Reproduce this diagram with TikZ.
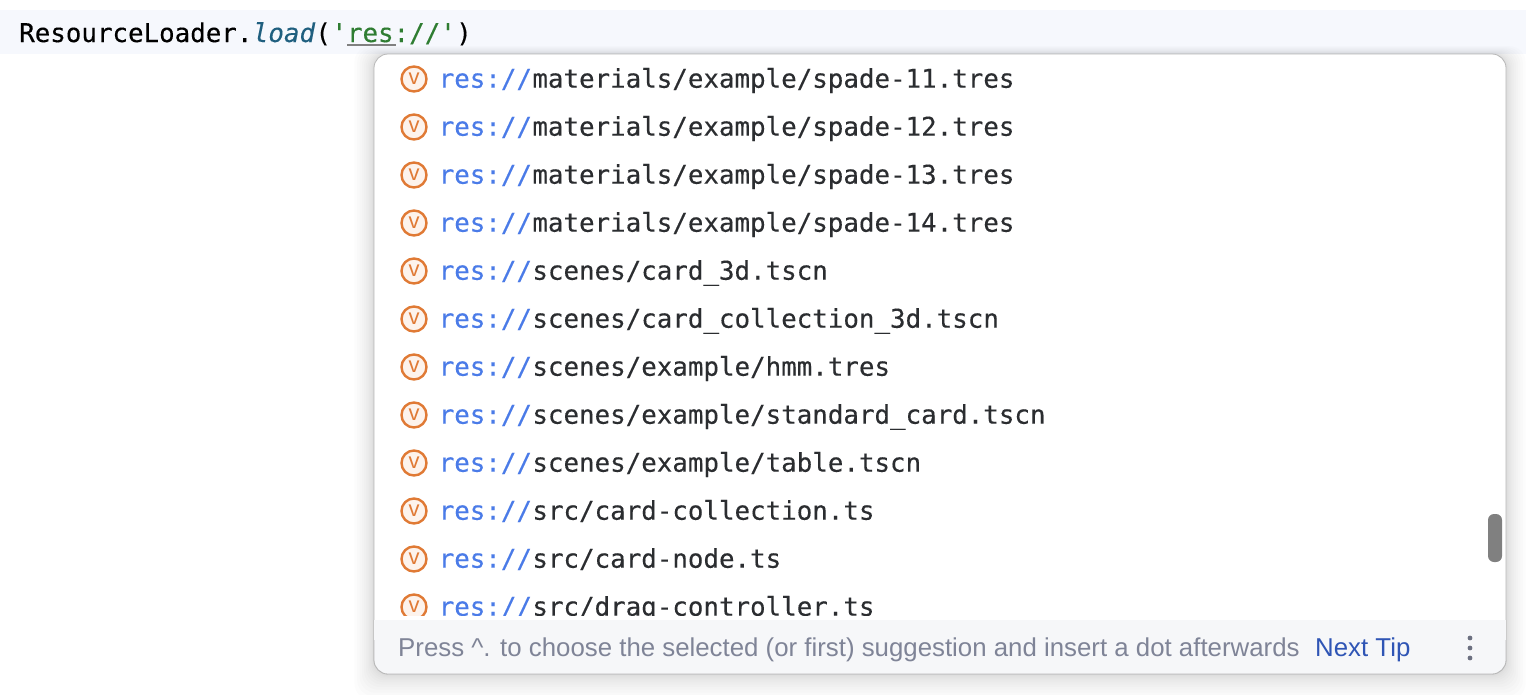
\documentclass[tikz,border=0pt]{standalone}
\usepackage{fontspec}
\setmainfont{Liberation Sans}
\setmonofont[FakeBold=0.25]{DejaVu Sans Mono}
\definecolor{bandcol}{HTML}{F6F8FD}
\definecolor{footcol}{HTML}{F6F7F9}
\definecolor{iconcol}{HTML}{E07A35}
\definecolor{iconfill}{HTML}{FDF3EC}
\definecolor{rescol}{HTML}{4A7BE8}
\definecolor{pathcol}{HTML}{2B2D30}
\definecolor{loadcol}{HTML}{1F5F7F}
\definecolor{strcol}{HTML}{2F7D32}
\definecolor{tipcol}{HTML}{7F8497}
\definecolor{linkcol}{HTML}{2F55B5}
\tikzset{
    code/.style={inner sep=0pt, anchor=base west, font=\ttfamily\fontsize{25.83}{30}\selectfont},
    tip/.style={inner sep=0pt, anchor=base west, font=\fontsize{25.82}{30}\selectfont},
    icon/.style={circle, draw=iconcol, line width=2.4pt, fill=iconfill, minimum size=25pt, inner sep=0pt, text=iconcol, font=\fontsize{22}{22}\selectfont}
}
\begin{document}
\begin{tikzpicture}[x=1pt,y=-1pt]
\useasboundingbox (0,0) rectangle (1526,694);
\fill[bandcol] (0,10) rectangle (1526,54);
% editor line
\node[code] (cls) at (19,42) {ResourceLoader.};
\node[code, text=loadcol] (load) at (cls.base east) {\itshape load};
\node[code] (open) at (load.base east) {(};
\node[code, text=strcol] (str) at (open.base east) {'res://'};
\node[code] (close) at (str.base east) {)};
\draw[gray, line width=1.5pt] (347,45) -- (396,45);
% popup with its shadow
\foreach \s in {1,...,14}{
    \fill[black, opacity=0.012, rounded corners=16pt] (374-0.1*\s*\s,54-0.04*\s*\s) rectangle (1506+0.1*\s*\s,674+0.13*\s*\s);
}
\fill[white, draw=black!28, line width=0.8pt, rounded corners=14pt] (374,54) rectangle (1506,674);
\begin{scope}
\clip (374,54) rectangle (1506,615);
\foreach \y/\p/\labeltext in {79/m1/{materials/example/spade-11.tres}, 127/m2/{materials/example/spade-12.tres}, 175/m3/{materials/example/spade-13.tres}, 223/m4/{materials/example/spade-14.tres}, 271/s1/{scenes/card_3d.tscn}, 319/s2/{scenes/card_collection_3d.tscn}, 367/s3/{scenes/example/hmm.tres}, 415/s4/{scenes/example/standard_card.tscn}, 463/s5/{scenes/example/table.tscn}, 511/c1/{src/card-collection.ts}, 559/c2/{src/card-node.ts}, 607/c3/{src/drag-controller.ts}}{
    \node[icon] (i\p) at (414,\y) {v};
    \node[code, text=rescol] (r\p) at (438.5,\y+8.7) {res://};
    \node[code, text=pathcol] (t\p) at (r\p.base east) {\detokenize\expandafter{\labeltext}};
}
\end{scope}
% footer
\fill[footcol, draw=black!28, line width=0.8pt, rounded corners=14pt] (374,620) -- (374,674) -- (1506,674) -- (1506,620);
\fill[footcol] (374.4,620) rectangle (1505.6,640);
\node[tip, text=tipcol] (hint) at (398,656.5) {Press \^{}. to choose the selected (or first) suggestion and insert a dot afterwards};
\node[tip, text=linkcol] (next) at (1315,656.5) {Next Tip};
\foreach \y in {638,648,658}{
    \fill[tipcol!85!black] (1470,\y) circle (2.4);
}
\fill[black!50, rounded corners=6pt] (1488,514) rectangle (1502,562);
\end{tikzpicture}
\end{document}
